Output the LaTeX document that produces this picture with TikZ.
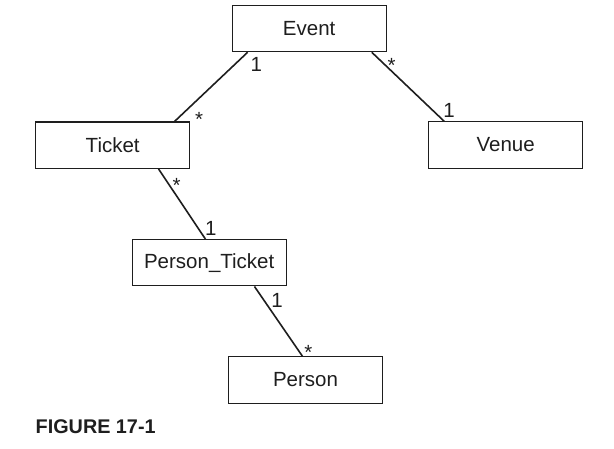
\documentclass[tikz,border=0pt]{standalone}
\usepackage{fontspec}
\setmainfont{Liberation Sans}
\definecolor{ink}{HTML}{1E1E1E}
\begin{document}
\begin{tikzpicture}[x=1pt,y=-1pt,
  box/.style={draw=ink,line width=1.1pt,inner sep=0pt,minimum width=154pt,minimum height=46.4pt,
    text=ink,font=\fontsize{20.5}{24}\selectfont},
  conn/.style={draw=ink,line width=1.6pt},
  mult/.style={inner sep=0pt,anchor=base,text=ink,font=\fontsize{20.5}{24}\selectfont}]
\useasboundingbox (0,0) rectangle (614,448);
\node[box] (Event) at (309.2,28.5) {Event};
\node[box] (Ticket) at (112.7,145.2) {Ticket};
\node[box] (Venue) at (505.7,145) {Venue};
\node[box] (PT) at (209.2,262.7) {Person\_Ticket};
\node[box] (Person) at (305.5,380) {Person};
\draw[conn] ([xshift=16pt]Event.south west) -- ([xshift=-15.7pt]Ticket.north east);
\draw[conn] ([xshift=-15pt]Event.south east) -- ([xshift=16pt]Venue.north west);
\draw[conn] ([xshift=-31.7pt]Ticket.south east) -- ([xshift=73.7pt]PT.north west);
\draw[conn] ([xshift=-32.3pt]PT.south east) -- ([xshift=74.5pt]Person.north west);
\node[mult] (m1) at (256.2,71.7) {1};
\node[mult] (m2) at (199,126.7) {*};
\node[mult] (m3) at (391.7,72.2) {*};
\node[mult] (m4) at (449,117.3) {1};
\node[mult] (m5) at (176.7,192) {*};
\node[mult] (m6) at (210.7,235) {1};
\node[mult] (m7) at (277,307.3) {1};
\node[mult] (m8) at (308.3,359) {*};
\node[inner sep=0pt,anchor=base west,text=ink,font=\bfseries\fontsize{19.8}{23}\selectfont] (cap) at (35.5,433.3) {FIGURE 17-1};
\end{tikzpicture}
\end{document}
